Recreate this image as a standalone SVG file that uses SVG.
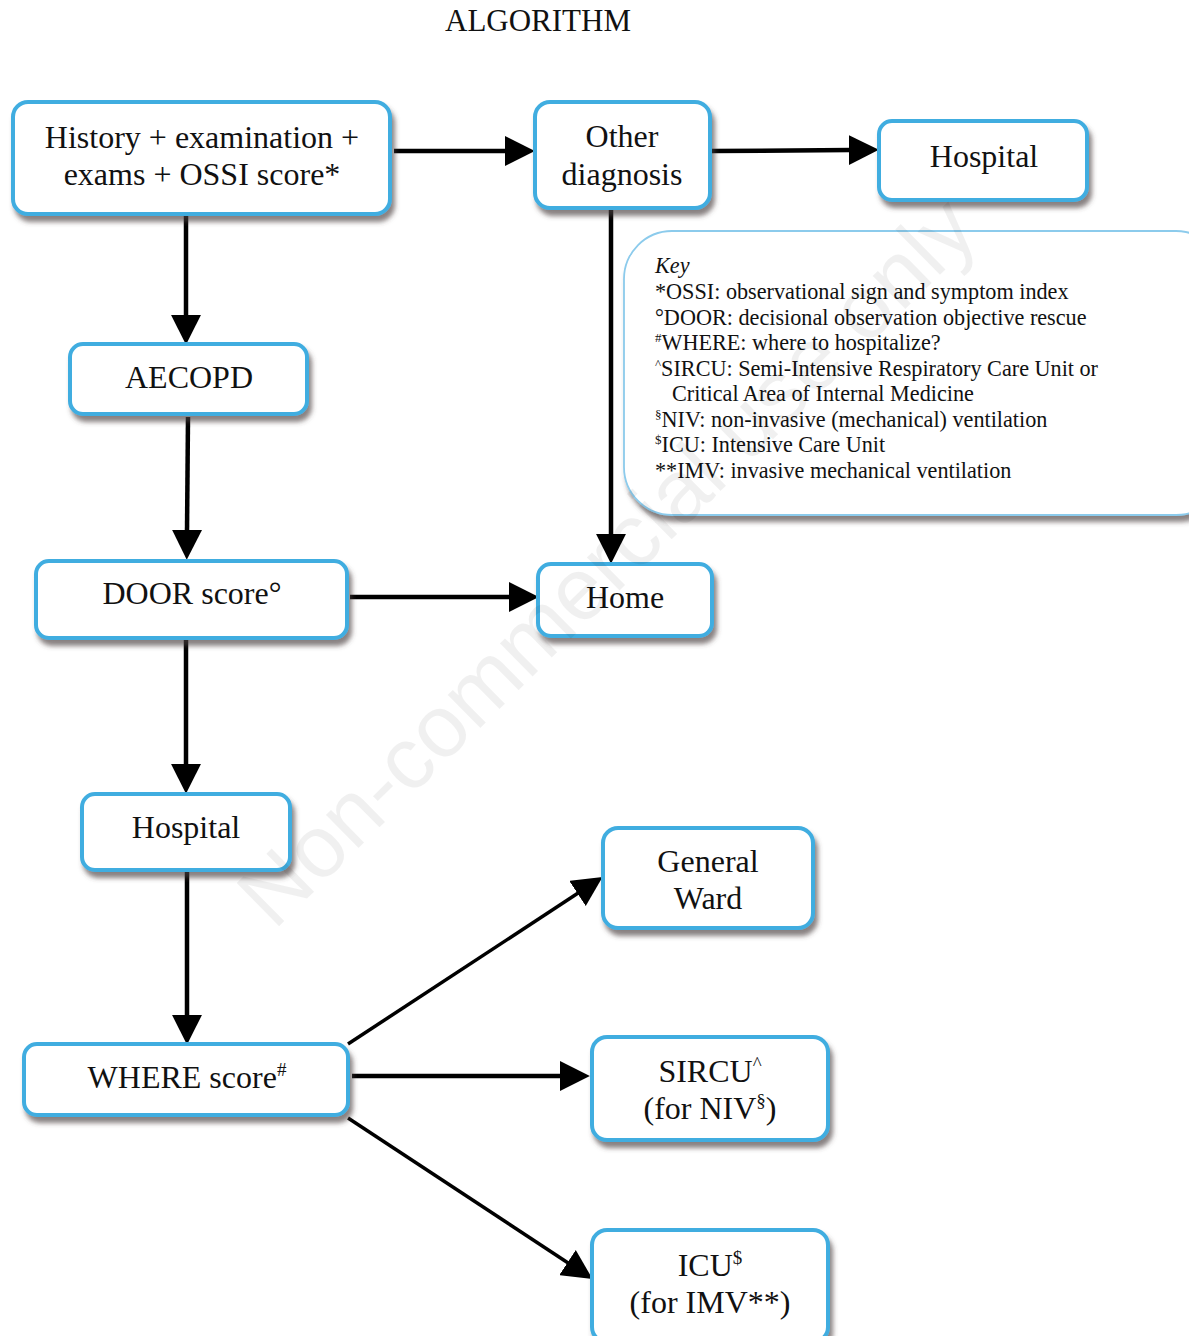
<svg xmlns="http://www.w3.org/2000/svg" width="1189" height="1336" viewBox="0 0 1189 1336">
<style>
.node rect.box{fill:#ffffff;stroke:#41ade0;stroke-width:4;filter:url(#sh)}
.t{font-family:"Liberation Serif","Times New Roman",serif;font-size:32px;fill:#111;text-anchor:middle}
.k{font-family:"Liberation Serif","Times New Roman",serif;font-size:22.2px;fill:#111}
.c line{stroke:#000;stroke-width:4.5;marker-end:url(#ah)}
.c line.d{stroke-width:3.5}
.sup{font-size:19px}
.ksup{font-size:13px}
</style>
<defs>
<filter id="sh" x="-10%" y="-20%" width="125%" height="150%">
<feDropShadow dx="3" dy="6" stdDeviation="2.5" flood-color="#4a4040" flood-opacity="0.65"/>
</filter>
<marker id="ah" markerUnits="userSpaceOnUse" markerWidth="30" markerHeight="30" viewBox="0 0 28 28" refX="2" refY="14" orient="auto">
<path d="M0,0 L28,14 L0,28 z" fill="#000"/>
</marker>
</defs>
<rect width="1189" height="1336" fill="#ffffff"/>
<text x="538" y="31" font-family="'Liberation Serif','Times New Roman',serif" font-size="31" fill="#111" text-anchor="middle">ALGORITHM</text>

<g id="connectors" class="c">
<line x1="394" y1="151" x2="507" y2="151"/>
<line x1="712" y1="151" x2="851" y2="150"/>
<line x1="186" y1="216" x2="186" y2="317"/>
<line x1="188" y1="417" x2="187" y2="532"/>
<line x1="350" y1="597" x2="511" y2="597"/>
<line x1="611" y1="210" x2="611" y2="536"/>
<line x1="186" y1="640" x2="186" y2="766"/>
<line x1="187" y1="872" x2="187" y2="1017"/>
<line class="d" x1="348" y1="1044" x2="579.3" y2="892.3"/>
<line x1="352" y1="1076" x2="562" y2="1076"/>
<line class="d" x1="348" y1="1118" x2="569.3" y2="1263.7"/>
</g>

<g id="node-history" class="node">
<rect class="box" x="13" y="102" width="377" height="112" rx="15"/>
<text class="t" x="202" y="148">History + examination +</text>
<text class="t" x="202" y="185">exams + OSSI score*</text>
</g>
<g id="node-other" class="node">
<rect class="box" x="535" y="102" width="175" height="106" rx="15"/>
<text class="t" x="622" y="147">Other</text>
<text class="t" x="622" y="185">diagnosis</text>
</g>
<g id="node-hospital-top" class="node">
<rect class="box" x="879" y="121" width="208" height="79" rx="13"/>
<text class="t" x="984" y="167">Hospital</text>
</g>
<g id="node-key" class="node">
<rect x="624" y="231" width="600" height="284" rx="48" fill="#ffffff" stroke="#8ccbec" stroke-width="1.8" filter="url(#sh)"/>
<text class="k" x="655" y="273" font-style="italic">Key</text>
<text class="k" x="655" y="299">*OSSI: observational sign and symptom index</text>
<text class="k" x="655" y="325">°DOOR: decisional observation objective rescue</text>
<text class="k" x="655" y="350"><tspan class="ksup" dy="-8">#</tspan><tspan dy="8">WHERE: where to hospitalize?</tspan></text>
<text class="k" x="655" y="376"><tspan class="ksup" dy="-8">^</tspan><tspan dy="8">SIRCU: Semi-Intensive Respiratory Care Unit or</tspan></text>
<text class="k" x="672" y="401">Critical Area of Internal Medicine</text>
<text class="k" x="655" y="427"><tspan class="ksup" dy="-8">§</tspan><tspan dy="8">NIV: non-invasive (mechanical) ventilation</tspan></text>
<text class="k" x="655" y="452"><tspan class="ksup" dy="-8">$</tspan><tspan dy="8">ICU: Intensive Care Unit</tspan></text>
<text class="k" x="655" y="478">**IMV: invasive mechanical ventilation</text>
</g>
<g id="node-aecopd" class="node">
<rect class="box" x="70" y="344" width="237" height="70" rx="13"/>
<text class="t" x="189" y="388">AECOPD</text>
</g>
<g id="node-door" class="node">
<rect class="box" x="36" y="561" width="311" height="77" rx="13"/>
<text class="t" x="192" y="604">DOOR score°</text>
</g>
<g id="node-home" class="node">
<rect class="box" x="538" y="564" width="174" height="72" rx="13"/>
<text class="t" x="625" y="608">Home</text>
</g>
<g id="node-hospital-mid" class="node">
<rect class="box" x="82" y="794" width="208" height="76" rx="13"/>
<text class="t" x="186" y="838">Hospital</text>
</g>
<g id="node-general-ward" class="node">
<rect class="box" x="603" y="828" width="210" height="100" rx="15"/>
<text class="t" x="708" y="872">General</text>
<text class="t" x="708" y="909">Ward</text>
</g>
<g id="node-where" class="node">
<rect class="box" x="24" y="1044" width="324" height="71" rx="13"/>
<text class="t" x="187" y="1088">WHERE score<tspan class="sup" dy="-12">#</tspan></text>
</g>
<g id="node-sircu" class="node">
<rect class="box" x="592" y="1037" width="236" height="103" rx="15"/>
<text class="t" x="710" y="1082">SIRCU<tspan class="sup" dy="-12">^</tspan></text>
<text class="t" x="710" y="1119">(for NIV<tspan class="sup" dy="-12">§</tspan><tspan dy="12">)</tspan></text>
</g>
<g id="node-icu" class="node">
<rect class="box" x="592" y="1230" width="236" height="112" rx="15"/>
<text class="t" x="710" y="1276">ICU<tspan class="sup" dy="-12">$</tspan></text>
<text class="t" x="710" y="1313">(for IMV**)</text>
</g>
<text x="610" y="590" transform="rotate(-44.6 610 565)" font-family="'Liberation Sans',Arial,sans-serif" font-size="88" fill="#000" fill-opacity="0.06" text-anchor="middle">Non-commercial use only</text>
</svg>
